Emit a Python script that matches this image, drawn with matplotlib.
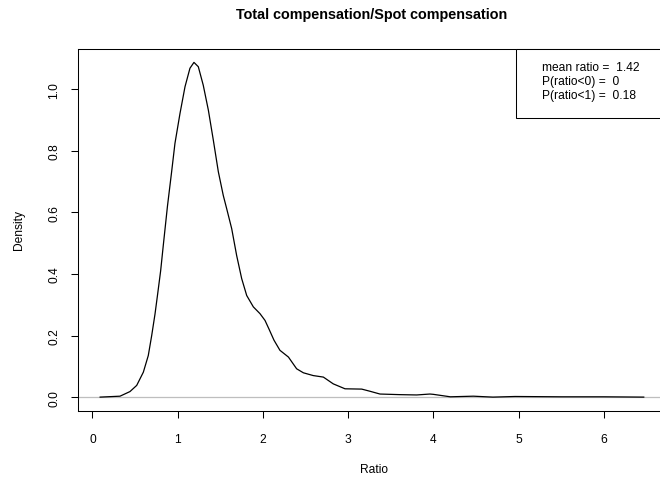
import matplotlib
matplotlib.use("Agg")
import matplotlib.pyplot as plt
from matplotlib.patches import Rectangle

plt.rcParams['font.family'] = ['Liberation Sans', 'DejaVu Sans']

# Density curve
ratio_x = [0.09, 0.323, 0.44, 0.519, 0.597, 0.655, 0.695, 0.734, 0.765, 0.80, 0.83,
           0.88, 0.929, 0.968, 1.027, 1.086, 1.144, 1.191, 1.242, 1.30, 1.36, 1.418,
           1.477, 1.535, 1.575, 1.634, 1.692, 1.751, 1.81, 1.888, 1.966, 2.025,
           2.07, 2.13, 2.20, 2.30, 2.396, 2.475, 2.59, 2.71, 2.826, 2.964,
           3.16, 3.257, 3.374, 3.61, 3.805, 3.96, 4.0, 4.2, 4.47, 4.7,
           4.96, 5.5, 6.0, 6.47]
density_y = [0.0, 0.003, 0.018, 0.038, 0.081, 0.135, 0.2, 0.27, 0.335, 0.41, 0.49,
             0.62, 0.732, 0.824, 0.921, 1.008, 1.068, 1.087, 1.073, 1.013, 0.932, 0.835,
             0.732, 0.655, 0.612, 0.547, 0.46, 0.385, 0.33, 0.293, 0.271, 0.249,
             0.222, 0.185, 0.152, 0.130, 0.092, 0.079, 0.070, 0.065, 0.043, 0.027,
             0.026, 0.019, 0.010, 0.008, 0.007, 0.010, 0.009, 0.001, 0.003, 0.0,
             0.002, 0.001, 0.001, 0.0]

x_ticks = [0, 1, 2, 3, 4, 5, 6]
y_ticks = [0.0, 0.2, 0.4, 0.6, 0.8, 1.0]
y_tick_labels = ["0.0", "0.2", "0.4", "0.6", "0.8", "1.0"]

title = "Total compensation/Spot compensation"
legend_lines = ["mean ratio =  1.42", "P(ratio<0) =  0", "P(ratio<1) =  0.18"]

W, H = 660, 485
fig = plt.figure(figsize=(W / 100, H / 100), dpi=100)
left, right, top, bottom = 78.4, 665.5, 50, 411.5
ax = fig.add_axes([left / W, 1 - bottom / H, (right - left) / W, (bottom - top) / H])

xmin, xmax = min(ratio_x), max(ratio_x)
ax.set_xlim(xmin - 0.04 * (xmax - xmin), xmax + 0.04 * (xmax - xmin))
ymax = max(density_y)
ax.set_ylim(-0.04 * ymax, 1.04 * ymax)

ax.axhline(0, color='#BEBEBE', lw=0.9)
ax.plot(ratio_x, density_y, color='black', lw=0.9, solid_joinstyle='round')

ax.set_xticks(x_ticks)
ax.set_xticklabels([str(t) for t in x_ticks])
ax.set_yticks(y_ticks)
ax.set_yticklabels(y_tick_labels, rotation=90, va='center')
ax.tick_params(axis='both', direction='out', length=5.2, width=0.75, labelsize=8.64, colors='black')
ax.tick_params(axis='x', pad=11)
ax.tick_params(axis='y', pad=8)
for s in ax.spines.values():
    s.set_linewidth(0.75)
    s.set_color('black')

fig.text(372 / W, 1 - 15 / H, title, ha='center', va='center', fontsize=10.37, fontweight='bold')
fig.text(374 / W, 1 - 470 / H, "Ratio", ha='center', va='center', fontsize=8.64)
fig.text(19 / W, 1 - 230 / H, "Density", ha='center', va='center', fontsize=8.64, rotation=90)

# legend box
rect = Rectangle((516 / W, 1 - 119 / H), (665.5 - 516) / W, (119 - 50) / H,
                 transform=fig.transFigure, fill=True, facecolor='white',
                 edgecolor='black', lw=0.75, zorder=5)
fig.add_artist(rect)
for i, line in enumerate(legend_lines):
    fig.text(542 / W, 1 - (68 + 14 * i) / H, line, ha='left', va='center', fontsize=8.64, zorder=6)

fig.savefig("out.png", dpi=100)
